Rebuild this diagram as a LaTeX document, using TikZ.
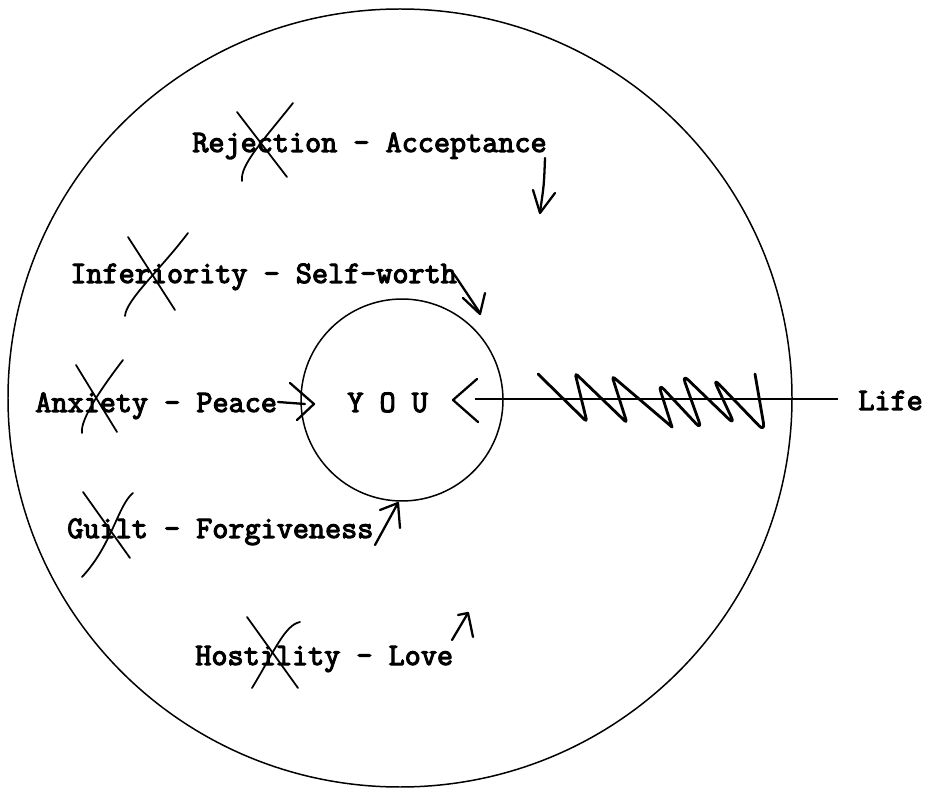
\documentclass[tikz,border=0pt]{standalone}
\usepackage{fontspec}
\newfontfamily\typer[FakeBold=3.5]{Latin Modern Mono}
\begin{document}
\begin{tikzpicture}[x=0.02cm,y=-0.02cm,
    word/.style={font=\typer\fontsize{17.8pt}{20pt}\selectfont,anchor=base west,inner sep=0pt},
    rim/.style={line width=0.85pt},
    scrawl/.style={line width=1.3pt,line cap=round,line join=round},
    cross/.style={line width=1pt,line cap=round}]
    \useasboundingbox (0,0) rectangle (930,790);
    % outer world and inner self
    \draw[rim] (400,398) ellipse[x radius=392,y radius=389];
    \node[circle,draw,rim,minimum size=4.04cm,inner sep=0pt] (self) at (402,400) {};
    \node[word] (you) at (347,412) {Y O U};
    \node[word] (life) at (858,410) {Life};
    \node[word] (rej) at (192,152) {Rejection - Acceptance};
    \node[word] (inf) at (70,283) {Inferiority - Self-worth};
    \node[word] (anx) at (35,412) {Anxiety - Peace};
    \node[word] (gui) at (67,538) {Guilt - Forgiveness};
    \node[word] (hos) at (195,665) {Hostility - Love};
    % life coming in, tangled
    \coordinate (lifetip) at (475,399);
    \draw[line width=1.5pt] (838,399) -- (lifetip);
    \draw[scrawl] (453,400) ++(24,-21) -- (453,400) -- (478,422);
    \draw[scrawl,line width=1.6pt,rounded corners=2pt] (538,374) -- (587,422) -- (575,373) -- (627,423) -- (612,376) -- (672,427);
    \draw[scrawl,line width=1.6pt,rounded corners=5pt] (672,427) -- (658,383) -- (702,430) -- (682,374) -- (735,425) -- (713,378) -- (765,432) -- (755,374);
    % crossed-out words
    \draw[cross] (237,112) -- (287,177);
    \draw[cross] (293,103) .. controls (262,142) and (240,165) .. (242,181);
    \draw[cross] (128,237) -- (175,310);
    \draw[cross] (188,233) .. controls (160,270) and (126,300) .. (125,316);
    \draw[cross] (76,365) -- (117,432);
    \draw[cross] (123,360) .. controls (100,390) and (80,420) .. (82,433);
    \draw[cross] (83,492) -- (130,558);
    \draw[cross] (133,493) .. controls (118,505) and (112,545) .. (82,577);
    \draw[cross] (247,617) -- (298,688);
    \draw[cross] (300,622) .. controls (285,625) and (275,650) .. (252,688);
    % hand arrows toward the self
    \draw[scrawl] (545,158) .. controls (544,185) .. (540,212);
    \draw[scrawl] (533,190) -- (540,213) -- (555,193);
    \draw[scrawl] (453,273) -- (456,277) -- (480,313);
    \draw[scrawl] (463,298) -- (480,314) -- (485,293);
    \draw[scrawl] (278,402) -- (305,404);
    \draw[scrawl] (290,383) -- (314,404) -- (297,420);
    \draw[scrawl] (375,545) -- (398,503);
    \draw[scrawl] (380,510) -- (398,503) -- (400,528);
    \draw[scrawl] (452,640) -- (468,613);
    \draw[scrawl] (458,615) -- (468,613) -- (473,637);
\end{tikzpicture}
\end{document}
